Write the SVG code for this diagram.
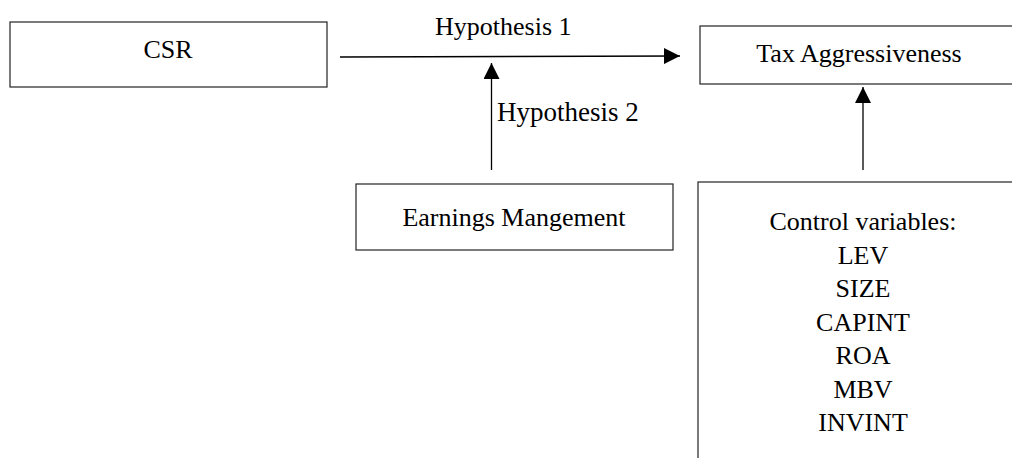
<svg xmlns="http://www.w3.org/2000/svg" width="1012" height="458" viewBox="0 0 1012 458">
  <style>
    .box { fill: #ffffff; stroke: #222222; stroke-width: 1.2; }
    .t { font-family: "Liberation Serif", "Times New Roman", serif; font-size: 26px; fill: #000000; }
    .c { text-anchor: middle; }
    .edge { stroke: #000000; stroke-width: 1.3; fill: none; }
  </style>
  <defs>
    <marker id="arrow" viewBox="0 0 16 16" refX="16" refY="8" markerWidth="16" markerHeight="16" markerUnits="userSpaceOnUse" orient="auto">
      <path d="M0,0 L16,8 L0,16 Z" fill="#000000"/>
    </marker>
  </defs>
  <rect width="1012" height="458" fill="#ffffff"/>

  <g id="node-csr">
    <rect class="box" x="10" y="22" width="317" height="65"/>
    <text class="t c" x="168" y="58">CSR</text>
  </g>

  <g id="node-tax">
    <rect class="box" x="700" y="26" width="330" height="58"/>
    <text class="t c" x="859" y="62">Tax Aggressiveness</text>
  </g>

  <g id="node-em">
    <rect class="box" x="356" y="184" width="317" height="66"/>
    <text class="t c" x="514" y="226">Earnings Mangement</text>
  </g>

  <g id="node-control">
    <rect class="box" x="698" y="182" width="330" height="300"/>
    <text class="t c" x="863" y="230">Control variables:</text>
    <text class="t c" x="863" y="263.5">LEV</text>
    <text class="t c" x="863" y="297">SIZE</text>
    <text class="t c" x="863" y="330.5">CAPINT</text>
    <text class="t c" x="863" y="364">ROA</text>
    <text class="t c" x="863" y="397.5">MBV</text>
    <text class="t c" x="863" y="431">INVINT</text>
  </g>

  <g id="connectors">
    <line class="edge" x1="340" y1="57" x2="680" y2="56" marker-end="url(#arrow)"/>
    <line class="edge" x1="491.5" y1="170" x2="491.5" y2="63" marker-end="url(#arrow)"/>
    <line class="edge" x1="863" y1="170" x2="863" y2="87" marker-end="url(#arrow)"/>
    <text class="t" x="435" y="35">Hypothesis 1</text>
    <text class="t" x="497" y="121" style="font-size:27px">Hypothesis 2</text>
  </g>
</svg>
